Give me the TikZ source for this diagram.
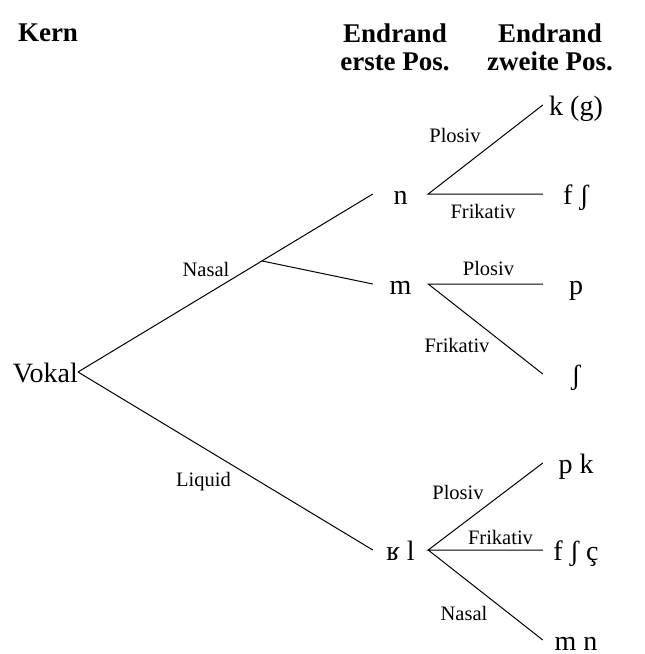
\documentclass[tikz,border=0pt]{standalone}
\usepackage{fontspec}
\setmainfont{Liberation Serif}
\tikzset{phon/.style={inner sep=0pt, text height=21pt, text depth=0pt,
font=\fontsize{28}{30}\selectfont},
mid/.style={phon, minimum width=55pt},
leaf/.style={phon, minimum width=66pt},
lbl/.style={inner sep=0pt, text height=14pt, text depth=0pt,
font=\fontsize{20.5}{22}\selectfont},
head/.style={align=center, inner sep=0pt, font=\bfseries\fontsize{27}{28}\selectfont},
branch/.style={line width=1pt}}

\begin{document}
\begin{tikzpicture}[x=1pt,y=-1pt]
  \useasboundingbox (0,0) rectangle (645,654);
  % column heads
  \node (kern) [head] at (48,33) {Kern};
  \node (erste) [head] at (395,47) {Endrand\\erste Pos.};
  \node (zweite) [head] at (550,47) {Endrand\\zweite Pos.};
  % nucleus and first coda position
  \node (vokal) [phon,anchor=east] at (78,372) {Vokal};
  \node (n) [mid] at (400.5,194) {n};
  \node (m) [mid] at (400.5,284) {m};
  \node (rl) [mid] at (400.5,550) {ʁ l};
  % second coda position
  \node (kg) [leaf] at (576,105) {k (g)};
  \node (fs) [leaf] at (576,194) {f ʃ};
  \node (p) [leaf] at (576,284) {p};
  \node (sh) [leaf] at (576,374) {ʃ};
  \node (pk) [leaf] at (576,463) {p k};
  \node (fsc) [leaf] at (576,550) {f ʃ ç};
  \node (mn) [leaf] at (576,640) {m n};
  % branches
  \draw [branch] (vokal.east) -- coordinate[pos=.624] (nas) (n.west);
  \draw [branch] (nas) -- (m.west);
  \draw [branch] (vokal.east) -- (rl.west);
  \draw [branch] (kg.west) -- (n.east) -- (fs.west);
  \draw [branch] (p.west) -- (m.east) -- (sh.west);
  \draw [branch] (pk.west) -- (rl.east) -- (fsc.west);
  \draw [branch] (rl.east) -- (mn.west);
  % labels
  \node (lnasal) [lbl] at (206,269) {Nasal};
  \node (lliquid) [lbl] at (203.5,479.7) {Liquid};
  \node (lplos1) [lbl] at (455,135.3) {Plosiv};
  \node (lfrik1) [lbl] at (483,211) {Frikativ};
  \node (lplos2) [lbl] at (488.5,268.7) {Plosiv};
  \node (lfrik2) [lbl] at (457,345.7) {Frikativ};
  \node (lplos3) [lbl] at (458,492.3) {Plosiv};
  \node (lfrik3) [lbl] at (500.5,537.3) {Frikativ};
  \node (lnasal3) [lbl] at (464,613) {Nasal};
\end{tikzpicture}
\end{document}
